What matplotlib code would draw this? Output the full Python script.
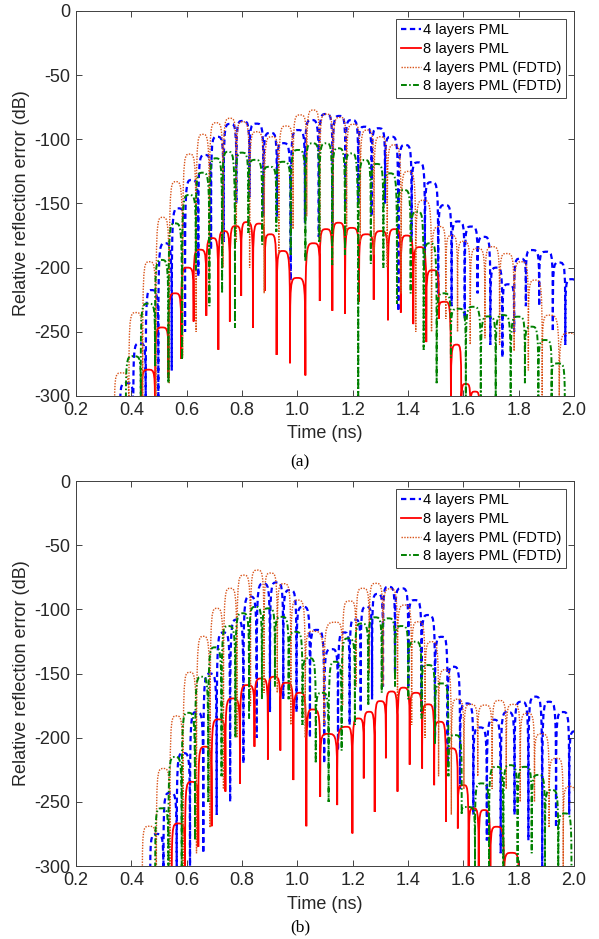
import numpy as np
import matplotlib
matplotlib.use('Agg')
import matplotlib.pyplot as plt
from matplotlib.path import Path
from matplotlib.patches import PathPatch
from matplotlib.lines import Line2D

plt.rcParams['font.family'] = ['Liberation Sans', 'DejaVu Sans']
plt.rcParams['axes.unicode_minus'] = False

# ---------------- data ----------------
# Each curve: lobe peak times (ns), lobe peak levels (dB),
# and the depth (dB) of the nulls around/between the lobes (len = peaks + 1)

# ----- panel (a) -----
a_blue_t = [0.383, 0.431, 0.473, 0.522, 0.570, 0.618, 0.666, 0.710, 0.757, 0.802,
            0.852, 0.903, 0.949, 1.003, 1.052, 1.103, 1.152, 1.196, 1.244, 1.293,
            1.341, 1.389, 1.437, 1.485, 1.533, 1.582, 1.628, 1.675, 1.720, 1.762,
            1.805, 1.847, 1.901, 1.946, 1.991]
a_blue_pk = [-290, -259, -217.5, -181, -153.8, -131.7, -112.2, -98, -88, -85.7,
             -87.8, -95, -103, -92.8, -85, -80.3, -81.8, -85, -90.2, -91.4,
             -98, -104.4, -118, -133.4, -151.2, -164, -168, -176, -200, -213,
             -193, -186.3, -187.6, -196, -209]
a_blue_nl = [-330, -330, -320, -300, -280, -250, -207, -186, -180, -150, -145, -160,
             -160, -210, -165, -176, -168, -155, -150, -160, -150, -234, -180, -200,
             -220, -230, -240, -220, -260, -270, -250, -230, -230, -250, -260, -280]

a_red_t = [0.461, 0.510, 0.558, 0.602, 0.648, 0.694, 0.735, 0.777, 0.817, 0.862,
           0.903, 0.947, 1.000, 1.058, 1.104, 1.149, 1.196, 1.250, 1.302, 1.353,
           1.395, 1.443, 1.489, 1.534, 1.576, 1.609, 1.642]
a_red_pk = [-279.5, -246.6, -220, -200, -186, -177, -171.5, -167.6, -164.5, -165.7,
            -174, -187, -208, -181, -170, -165, -169, -174, -171.5, -170,
            -175, -184, -202, -226.6, -260, -290.6, -296.6]
a_red_nl = [-330, -320, -286, -271, -242, -237.5, -264, -242, -222, -247, -218, -268,
            -274.5, -284, -226, -233.6, -236, -226.7, -225, -241, -235, -244, -258,
            -240, -330, -330, -330, -330]

a_orange_t = [0.365, 0.417, 0.465, 0.513, 0.561, 0.610, 0.658, 0.706, 0.757, 0.802,
              0.853, 0.907, 0.959, 1.010, 1.058, 1.104, 1.154, 1.202, 1.253, 1.301,
              1.349, 1.401, 1.455, 1.515, 1.558, 1.600, 1.650, 1.706, 1.756, 1.811,
              1.859, 1.911, 1.982]
a_orange_pk = [-282, -235, -195.4, -160.8, -133, -111.5, -96.1, -87.1, -83.6, -86.3,
               -94.1, -98, -89.6, -81, -77.2, -80.3, -82.9, -88.3, -92.8, -98,
               -104.4, -125, -147.5, -168, -175, -179.5, -185, -183.7, -189, -195.4,
               -209.7, -237, -251]
a_orange_nl = [-330, -330, -320, -300, -290, -270, -250, -220, -200, -180, -200, -220,
               -190, -170, -160, -180, -170, -175, -180, -190, -200, -220, -250, -250,
               -240, -250, -260, -255, -260, -265, -280, -300, -330, -330]

a_green_t = [0.407, 0.461, 0.510, 0.558, 0.608, 0.658, 0.706, 0.750, 0.799, 0.847,
             0.899, 0.949, 1.003, 1.055, 1.104, 1.148, 1.196, 1.244, 1.287, 1.335,
             1.385, 1.434, 1.479, 1.528, 1.582, 1.636, 1.690, 1.744, 1.798, 1.847,
             1.895, 1.943]
a_green_pk = [-269, -228, -194, -165.5, -143.4, -126, -114.8, -109.7, -110.4, -116,
              -121.4, -117.5, -108.3, -103.1, -103.1, -107, -111, -116.1, -119.2, -126.5,
              -139.5, -156.4, -181, -220, -232, -230.5, -238, -237, -238.2, -246,
              -256.4, -274.6]
a_green_nl = [-330, -300, -277, -290, -272, -202, -230, -220, -247, -173, -182, -172,
              -190, -195, -180, -198, -190, -300, -197, -200, -228, -220, -264, -290,
              -270, -300, -320, -300, -320, -290, -320, -300, -330]

# ----- panel (b) -----
b_blue_t = [0.492, 0.540, 0.588, 0.636, 0.684, 0.733, 0.781, 0.829, 0.877, 0.925,
            0.973, 1.021, 1.070, 1.124, 1.170, 1.208, 1.250, 1.290, 1.329, 1.377,
            1.425, 1.473, 1.522, 1.564, 1.612, 1.660, 1.710, 1.760, 1.810, 1.860,
            1.910, 1.960, 2.005]
b_blue_pk = [-275, -243, -212, -180, -150, -118, -108, -90, -80, -79,
             -85, -98, -116, -131, -118, -108, -98, -88, -82.4, -83.6,
             -92.8, -104.4, -121.4, -144.7, -173.3, -192, -186, -180, -172, -168,
             -172, -180, -195]
b_blue_nl = [-330, -330, -320, -300, -290, -260, -250, -220, -200, -180, -170, -180,
             -200, -220, -210, -190, -180, -170, -160, -150, -160, -180, -200, -220,
             -240, -260, -280, -290, -260, -280, -300, -270, -260, -280]

b_red_t = [0.570, 0.618, 0.666, 0.714, 0.766, 0.819, 0.871, 0.916, 0.961, 1.010,
           1.055, 1.110, 1.178, 1.220, 1.260, 1.299, 1.341, 1.383, 1.429, 1.473,
           1.516, 1.558, 1.602, 1.636, 1.675, 1.720, 1.774]
b_red_pk = [-266.8, -234.4, -207, -185.7, -169.4, -159, -153.8, -152.5, -157.2, -165,
            -178, -197, -191.5, -185, -179.8, -171.5, -164, -161, -165, -174,
            -187.6, -208.3, -237, -255, -256.4, -269.4, -289.7]
b_red_nl = [-330, -320, -285, -269, -242, -236, -207, -217, -210, -233, -269, -246,
            -252.5, -274.6, -231.7, -257.8, -216, -242, -221, -224, -237, -265.6,
            -270.7, -330, -330, -330, -330, -330]

b_orange_t = [0.465, 0.516, 0.563, 0.611, 0.660, 0.709, 0.757, 0.806, 0.855, 0.904,
              0.951, 1.002, 1.055, 1.138, 1.189, 1.236, 1.284, 1.335, 1.389, 1.437,
              1.486, 1.535, 1.578, 1.626, 1.678, 1.730, 1.780, 1.831, 1.883, 1.937,
              1.985]
b_orange_pk = [-269, -224, -183, -149, -121, -99.2, -83.6, -73.3, -69.4, -71.7,
               -80, -92.8, -117, -110, -93.5, -83.6, -79.7, -84, -96.6, -109.7,
               -125.2, -147, -170, -174, -174.6, -171, -174, -181, -197, -216,
               -238]
b_orange_nl = [-330, -320, -310, -300, -290, -270, -240, -200, -175, -165, -165, -190,
               -200, -190, -175, -160, -150, -160, -170, -190, -200, -230, -260, -240,
               -230, -240, -240, -250, -250, -270, -300, -330]

b_green_t = [0.510, 0.558, 0.606, 0.654, 0.702, 0.750, 0.802, 0.849, 0.895, 0.943,
             0.994, 1.043, 1.090, 1.136, 1.184, 1.232, 1.281, 1.329, 1.377, 1.425,
             1.473, 1.522, 1.570, 1.618, 1.666, 1.720, 1.769, 1.823, 1.871, 1.919,
             1.967]
b_green_pk = [-255, -215, -180.6, -152.5, -129.6, -113, -103, -98, -99.2, -105.8,
              -117.5, -138, -165, -140.8, -122.6, -111, -106.2, -107, -113, -125.2,
              -143.4, -157.7, -198, -254, -235.6, -222.7, -221.4, -222.7, -229, -240.8,
              -259]
b_green_nl = [-330, -320, -300, -280, -250, -230, -200, -185, -170, -160, -170, -190,
              -220, -250, -210, -190, -175, -165, -160, -170, -185, -205, -230, -260,
              -300, -300, -300, -300, -290, -300, -310, -330]

legend_labels = ['4 layers PML', '8 layers PML', '4 layers PML (FDTD)', '8 layers PML (FDTD)']
x_ticks = [0.2, 0.4, 0.6, 0.8, 1.0, 1.2, 1.4, 1.6, 1.8, 2.0]
y_ticks = [0, -50, -100, -150, -200, -250, -300]
panel_labels = ['(a)', '(b)']

# ---------------- styles ----------------
styles = [
    dict(color='#0000ff', lw=1.6, ls=(0, (2.4, 1.6))),          # 4 layers PML
    dict(color='#ff0000', lw=1.3, ls='-'),                        # 8 layers PML
    dict(color='#d95319', lw=1.0, ls=(0, (1.0, 1.0))),            # 4 layers FDTD
    dict(color='#008000', lw=1.4, ls=(0, (3.0, 1.2, 0.8, 1.2))),  # 8 layers FDTD
]


def lobe_path(peak_t, peak_db, null_db):
    """Chain of rounded lobes (Bezier) through read peaks, with cusps at nulls."""
    pt = np.asarray(peak_t, float)
    pd = np.asarray(peak_db, float)
    nd = np.asarray(null_db, float)
    nt = np.empty(len(pt) + 1)
    nt[1:-1] = 0.5 * (pt[:-1] + pt[1:])
    nt[0] = pt[0] - 0.5 * (pt[1] - pt[0])
    nt[-1] = pt[-1] + 0.5 * (pt[-1] - pt[-2])
    verts = [(nt[0], nd[0])]
    codes = [Path.MOVETO]
    for i in range(len(pt)):
        verts += [(nt[i], pd[i]), (nt[i], pd[i]), (pt[i], pd[i]),
                  (nt[i + 1], pd[i]), (nt[i + 1], pd[i]), (nt[i + 1], nd[i + 1])]
        codes += [Path.CURVE4] * 6
    return Path(verts, codes)


fig = plt.figure(figsize=(5.99, 9.39), dpi=100)
axes_rects = [[0.1269, 0.5783, 0.8314, 0.4100], [0.1269, 0.0777, 0.8314, 0.4100]]
panels = [
    [(a_blue_t, a_blue_pk, a_blue_nl), (a_red_t, a_red_pk, a_red_nl),
     (a_orange_t, a_orange_pk, a_orange_nl), (a_green_t, a_green_pk, a_green_nl)],
    [(b_blue_t, b_blue_pk, b_blue_nl), (b_red_t, b_red_pk, b_red_nl),
     (b_orange_t, b_orange_pk, b_orange_nl), (b_green_t, b_green_pk, b_green_nl)],
]
caption_y = [462, 927]

for k, (rect, curves) in enumerate(zip(axes_rects, panels)):
    ax = fig.add_axes(rect)
    for (t, pk, nl), st in zip(curves, styles):
        patch = PathPatch(lobe_path(t, pk, nl), fill=False, edgecolor=st['color'],
                          lw=st['lw'], linestyle=st['ls'])
        ax.add_patch(patch)
    ax.set_xlim(0.2, 2.0)
    ax.set_ylim(-300, 0)
    ax.set_xticks(x_ticks)
    ax.set_xticklabels(['%.1f' % v for v in x_ticks])
    ax.set_yticks(y_ticks)
    ax.set_yticklabels(['%d' % v for v in y_ticks])
    ax.tick_params(direction='in', top=True, right=True, length=4, width=0.6,
                   labelsize=13, colors='#262626')
    ax.tick_params(axis='x', pad=4)
    ax.tick_params(axis='y', pad=4)
    for s in ax.spines.values():
        s.set_color('#404040')
        s.set_linewidth(0.7)
    ax.set_xlabel('Time (ns)', fontsize=13, color='#262626', labelpad=5)
    ax.set_ylabel('Relative reflection error (dB)', fontsize=13, color='#262626', labelpad=3)
    handles = [Line2D([], [], color=st['color'], lw=st['lw'], ls=st['ls']) for st in styles]
    leg = ax.legend(handles, legend_labels, loc='upper right', fontsize=10.5,
                    fancybox=False, framealpha=1, edgecolor='#262626',
                    handlelength=1.4, handletextpad=0.15, labelspacing=0.32,
                    borderpad=0.3, borderaxespad=0.55)
    leg.get_frame().set_linewidth(0.6)
    fig.text(300 / 599, 1 - caption_y[k] / 939, panel_labels[k], ha='center', va='center',
             fontsize=12.5, family=['Liberation Serif', 'DejaVu Serif'])

fig.savefig('out.png', dpi=100)
